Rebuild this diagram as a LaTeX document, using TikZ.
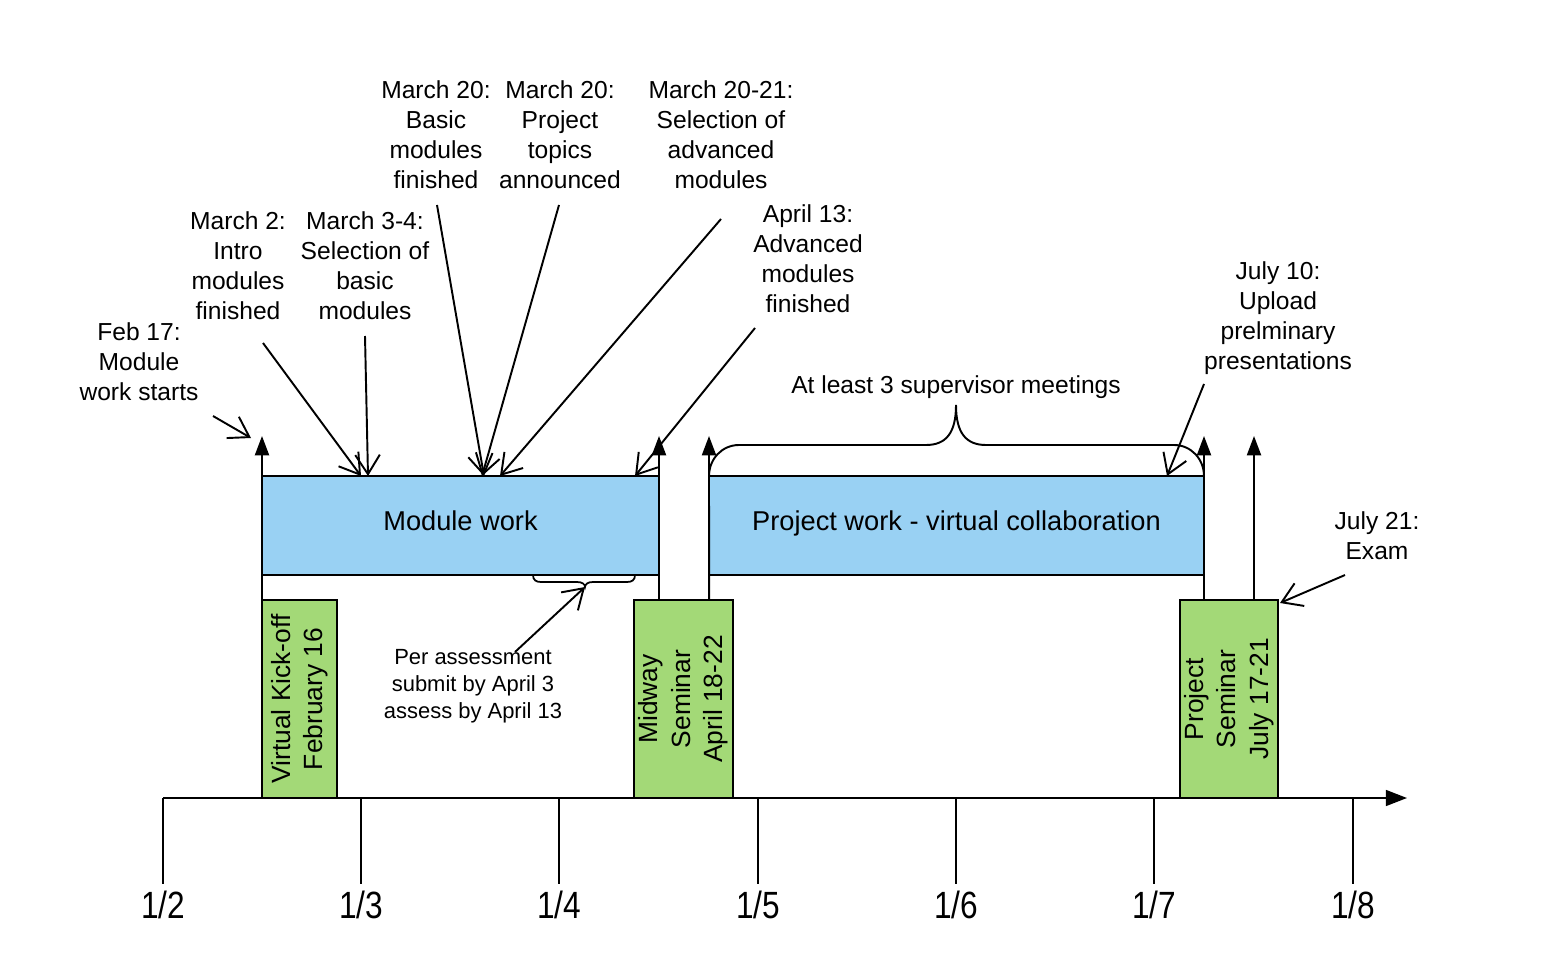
\documentclass[tikz,border=0pt]{standalone}
\usepackage{fontspec}
\setmainfont{Liberation Sans}
\usetikzlibrary{arrows.meta}
\definecolor{boxblue}{RGB}{153,209,243}
\definecolor{boxgreen}{RGB}{163,217,119}
\begin{document}
\begin{tikzpicture}[x=0.02cm,y=-0.02cm,line width=1.1pt,
  lbl/.style={align=center,inner sep=0pt,font=\fontsize{14}{17}\selectfont},
  smalllbl/.style={align=center,inner sep=0pt,font=\fontsize{12.5}{15.4}\selectfont},
  bbox/.style={draw=black,fill=boxblue,inner sep=0pt,outer sep=0pt,text height=0.75em,text depth=0.2em,font=\fontsize{15.5}{18}\selectfont},
  gbox/.style={draw=black,fill=boxgreen,inner sep=0pt,outer sep=0pt},
  vtxt/.style={rotate=90,align=center,inner sep=0pt,font=\fontsize{15}{18.5}\selectfont},
  axl/.style={inner sep=0pt,font=\fontsize{18}{20}\selectfont,yscale=1.2},
  uparrow/.style={-{Triangle[length=11pt,width=8pt]}},
  openarrow/.style={-{Straight Barb[length=11pt,width=14pt]}},
  axisarrow/.style={-{Triangle[length=12pt,width=9pt]}}]
\useasboundingbox (0,0) rectangle (1550,976);

% text labels
\node[lbl] (m20a) at (436,135) {March 20:\\Basic\\modules\\finished};
\node[lbl] (m20b) at (560,135) {March 20:\\Project\\topics\\announced};
\node[lbl] (m2021) at (721,135) {March 20-21:\\Selection of\\advanced\\modules};
\node[lbl] (m2) at (238,266) {March 2:\\Intro\\modules\\finished};
\node[lbl] (m34) at (365,266) {March 3-4:\\Selection of\\basic\\modules};
\node[lbl] (a13) at (808,259) {April 13:\\Advanced\\modules\\finished};
\node[lbl] (f17) at (139,362) {Feb 17:\\Module\\work starts};
\node[lbl] (j10) at (1278,318) {July 10:\\Upload\\prelminary\\presentations};
\node[lbl] (sup) at (956,387) {At least 3 supervisor meetings};
\node[lbl] (j21) at (1377,536) {July 21:\\Exam};
\node[smalllbl] (per) at (473,686) {Per assessment\\submit by April 3\\assess by April 13};

% vertical arrow ends
\coordinate (u1) at (262,436);
\coordinate (u2) at (659,436);
\coordinate (u3) at (709,436);
\coordinate (u4) at (1204,436);
\coordinate (u5) at (1254,436);
\coordinate (p5) at (1254,600);

% boxes
\node[bbox,minimum width=7.94cm,minimum height=1.98cm] (mw) at (460.5,525.5) {Module work};
\node[bbox,minimum width=9.9cm,minimum height=1.98cm] (pw) at (956.5,525.5) {Project work - virtual collaboration};
\node[gbox,minimum width=1.5cm,minimum height=3.96cm] (ko) at (299.5,699) {};
\node[vtxt] (kot) at (ko) {Virtual Kick-off\\February 16};
\node[gbox,minimum width=1.98cm,minimum height=3.96cm] (mid) at (683.5,699) {};
\node[vtxt] (midt) at (mid) {Midway\\Seminar\\April 18-22};
\node[gbox,minimum width=1.96cm,minimum height=3.96cm] (ps) at (1229,699) {};
\node[vtxt] (pst) at (ps) {Project\\Seminar\\July 17-21};

\draw[uparrow] (ko.north west) -- (u1);
\draw[uparrow] (mid.north -| mw.east) -- (u2);
\draw[uparrow] (mid.north -| pw.west) -- (u3);
\draw[uparrow] (ps.north -| pw.east) -- (u4);
\draw[uparrow] (p5) -- (u5);

% braces
\draw (pw.north west) .. controls (709,459) and (722,445) .. (739,445) -- (926,445)
  .. controls (946,445) and (956,433) .. (956,405)
  .. controls (956,433) and (966,445) .. (986,445) -- (1174,445)
  .. controls (1191,445) and (1204,459) .. (pw.north east);
\coordinate (bl) at (533,575);
\coordinate (br) at (635,575);
\coordinate (bp) at (585,587);
\draw[line width=1pt] (bl) .. controls (533,580) and (536,582) .. (541,582) -- (577,582)
  .. controls (582,582) and (585,584) .. (bp)
  .. controls (585,584) and (588,582) .. (593,582) -- (627,582)
  .. controls (632,582) and (635,580) .. (br);

% annotation arrows
\coordinate (s1) at (213,416); \coordinate (e1) at (251,438);
\coordinate (s2) at (263,343); \coordinate (e2) at (361,476);
\coordinate (s3) at (365,336); \coordinate (e3) at (368,476);
\coordinate (s4) at (437,205); \coordinate (e4) at (484,476);
\coordinate (s5) at (559,205); \coordinate (e5) at (482,476);
\coordinate (s6) at (721,219); \coordinate (e6) at (500,476);
\coordinate (s7) at (755,328); \coordinate (e7) at (635,476);
\coordinate (s8) at (1204,384); \coordinate (e8) at (1167,476);
\coordinate (s9) at (1345,575); \coordinate (e9) at (1280,603);
\coordinate (s10) at (515,652);
\draw[openarrow] (s1) -- (e1);
\draw[openarrow] (s2) -- (e2);
\draw[openarrow] (s3) -- (e3);
\draw[openarrow] (s4) -- (e4);
\draw[openarrow] (s5) -- (e5);
\draw[openarrow] (s6) -- (e6);
\draw[openarrow] (s7) -- (e7);
\draw[openarrow] (s8) -- (e8);
\draw[openarrow] (s9) -- (e9);
\draw[openarrow] (s10) -- (bp);

% axis
\coordinate (ax0) at (163,798);
\coordinate (ax1) at (1407,798);
\draw[axisarrow] (ax0) -- (ax1);
\foreach \x [count=\i from 2] in {163,361,559,758,956,1154,1353} {
  \coordinate (tk\i) at (\x,798);
  \coordinate (tb\i) at (\x,884);
  \draw (tk\i) -- (tb\i);
  \node[axl] (t\i) at (\x,905) {1/\i};
}
\end{tikzpicture}
\end{document}
